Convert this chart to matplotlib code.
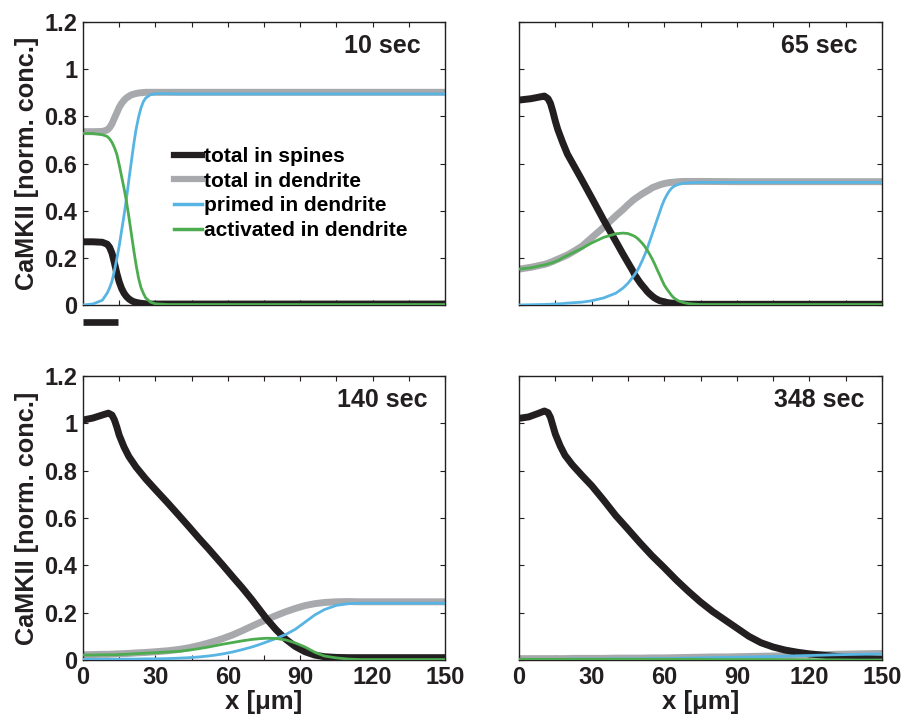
import matplotlib
matplotlib.use("Agg")
import matplotlib.pyplot as plt
from matplotlib.ticker import MultipleLocator, FixedLocator

plt.rcParams['font.family'] = ['Liberation Sans', 'DejaVu Sans']
plt.rcParams['font.weight'] = 'bold'

# --- data (x in um, y in normalized conc.) ---
x10 = [0, 4, 8, 10, 11, 12, 13, 14, 15, 16, 17, 18, 19, 20, 21, 22, 23, 24, 25, 26, 28, 30, 35, 40, 60, 90, 120, 150]
spines10 = [0.268, 0.268, 0.266, 0.258, 0.245, 0.22, 0.18, 0.135, 0.098, 0.07, 0.05, 0.036, 0.026, 0.019, 0.014,
            0.011, 0.009, 0.007, 0.006, 0.005, 0.004, 0.004, 0.004, 0.004, 0.004, 0.004, 0.004, 0.004]
dend10 = [0.735, 0.735, 0.736, 0.742, 0.752, 0.768, 0.792, 0.815, 0.838, 0.855, 0.868, 0.878, 0.885, 0.891, 0.894,
          0.897, 0.899, 0.9, 0.901, 0.902, 0.902, 0.902, 0.902, 0.902, 0.902, 0.902, 0.902, 0.902]
primed10 = [0.0, 0.004, 0.02, 0.05, 0.072, 0.1, 0.145, 0.195, 0.25, 0.315, 0.38, 0.45, 0.53, 0.605, 0.68,
            0.745, 0.795, 0.835, 0.862, 0.878, 0.892, 0.896, 0.896, 0.895, 0.895, 0.895, 0.895, 0.895]
act10 = [0.728, 0.727, 0.722, 0.715, 0.705, 0.69, 0.668, 0.64, 0.595, 0.545, 0.495, 0.44, 0.375, 0.305, 0.235,
         0.17, 0.115, 0.075, 0.05, 0.03, 0.012, 0.005, 0.002, 0.002, 0.002, 0.002, 0.002, 0.002]

x65 = [0, 5, 9, 10.5, 12, 13, 14, 15, 16, 18, 20, 23, 26, 30, 35, 40, 43, 45, 47, 48, 49, 50, 51, 52, 53, 54, 55,
       56, 57, 58, 59, 60, 61, 62, 63, 64, 65, 66, 68, 70, 72, 75, 90, 120, 150]
spines65 = [0.869, 0.875, 0.883, 0.886, 0.875, 0.855, 0.82, 0.78, 0.745, 0.69, 0.64, 0.585, 0.53, 0.455, 0.36,
            0.27, 0.215, 0.18, 0.145, 0.125, 0.11, 0.095, 0.082, 0.07, 0.057, 0.047, 0.038, 0.03, 0.024, 0.019,
            0.016, 0.014, 0.011, 0.009, 0.008, 0.007, 0.006, 0.005, 0.004, 0.003, 0.003, 0.003, 0.003, 0.003, 0.003]
dend65 = [0.152, 0.16, 0.169, 0.172, 0.177, 0.181, 0.185, 0.19, 0.194, 0.203, 0.212, 0.23, 0.249, 0.285, 0.33,
          0.378, 0.405, 0.425, 0.443, 0.451, 0.458, 0.465, 0.472, 0.478, 0.484, 0.49, 0.497, 0.501, 0.505, 0.509,
          0.512, 0.515, 0.517, 0.519, 0.52, 0.521, 0.522, 0.523, 0.524, 0.524, 0.524, 0.524, 0.523, 0.523, 0.523]
primed65 = [0.0, 0.001, 0.002, 0.002, 0.003, 0.003, 0.004, 0.004, 0.005, 0.006, 0.008, 0.01, 0.012, 0.018, 0.03,
            0.05, 0.072, 0.092, 0.118, 0.132, 0.148, 0.168, 0.19, 0.214, 0.24, 0.27, 0.3, 0.33, 0.36, 0.39, 0.42,
            0.445, 0.465, 0.482, 0.495, 0.503, 0.508, 0.512, 0.516, 0.518, 0.519, 0.52, 0.52, 0.52, 0.52]
act65 = [0.152, 0.158, 0.167, 0.17, 0.174, 0.177, 0.18, 0.184, 0.188, 0.2, 0.21, 0.225, 0.24, 0.263, 0.287,
         0.302, 0.305, 0.303, 0.295, 0.29, 0.282, 0.272, 0.261, 0.248, 0.232, 0.215, 0.196, 0.175, 0.152, 0.13,
         0.107, 0.085, 0.069, 0.055, 0.041, 0.03, 0.023, 0.017, 0.01, 0.006, 0.004, 0.002, 0.002, 0.002, 0.002]

x140 = [0, 4, 8, 10.5, 12, 13, 14, 15, 17, 19, 22, 26, 30, 35, 40, 44, 48, 52, 55, 58, 62, 66, 70, 73, 76, 80, 84,
        88, 92, 96, 100, 105, 110, 115, 120, 150]
spines140 = [1.014, 1.022, 1.035, 1.043, 1.035, 1.015, 0.985, 0.95, 0.9, 0.86, 0.815, 0.765, 0.72, 0.665, 0.608,
             0.562, 0.515, 0.47, 0.435, 0.4, 0.352, 0.305, 0.255, 0.215, 0.175, 0.128, 0.088, 0.057, 0.035, 0.021,
             0.014, 0.011, 0.01, 0.01, 0.01, 0.01]
dend140 = [0.022, 0.023, 0.024, 0.024, 0.025, 0.025, 0.026, 0.026, 0.027, 0.028, 0.03, 0.032, 0.035, 0.039, 0.045,
           0.052, 0.061, 0.072, 0.081, 0.091, 0.106, 0.124, 0.143, 0.157, 0.171, 0.188, 0.204, 0.218, 0.23, 0.238,
           0.243, 0.246, 0.247, 0.246, 0.246, 0.246]
primed140 = [0.003, 0.003, 0.003, 0.003, 0.003, 0.003, 0.003, 0.003, 0.004, 0.004, 0.004, 0.005, 0.005, 0.006,
             0.008, 0.01, 0.013, 0.017, 0.021, 0.026, 0.034, 0.044, 0.055, 0.065, 0.076, 0.091, 0.108, 0.13, 0.16,
             0.19, 0.213, 0.231, 0.238, 0.24, 0.24, 0.24]
act140 = [0.021, 0.021, 0.022, 0.022, 0.022, 0.022, 0.022, 0.023, 0.024, 0.025, 0.027, 0.029, 0.031, 0.034, 0.037,
          0.042, 0.048, 0.055, 0.061, 0.067, 0.074, 0.081, 0.087, 0.09, 0.092, 0.091, 0.085, 0.072, 0.055, 0.033,
          0.017, 0.009, 0.004, 0.002, 0.002, 0.002]

x348 = [0, 4, 8, 10.5, 12, 13, 14, 15, 17, 19, 22, 26, 30, 35, 40, 45, 50, 55, 60, 65, 70, 75, 80, 85, 90, 95,
        100, 105, 110, 115, 120, 130, 140, 150]
spines348 = [1.021, 1.027, 1.042, 1.052, 1.045, 1.025, 0.99, 0.955, 0.905, 0.865, 0.825, 0.78, 0.737, 0.675,
             0.61, 0.553, 0.495, 0.44, 0.39, 0.338, 0.29, 0.245, 0.205, 0.17, 0.135, 0.1, 0.073, 0.055, 0.042,
             0.033, 0.026, 0.016, 0.008, 0.003]
dend348 = [0.006, 0.006, 0.006, 0.006, 0.006, 0.006, 0.006, 0.006, 0.006, 0.006, 0.007, 0.007, 0.007, 0.007,
           0.008, 0.008, 0.008, 0.009, 0.009, 0.01, 0.011, 0.012, 0.013, 0.013, 0.014, 0.015, 0.016, 0.017,
           0.018, 0.02, 0.021, 0.024, 0.026, 0.028]
primed348 = [0.003, 0.003, 0.003, 0.003, 0.003, 0.003, 0.003, 0.003, 0.003, 0.003, 0.004, 0.004, 0.004, 0.004,
             0.005, 0.005, 0.005, 0.006, 0.006, 0.007, 0.008, 0.009, 0.01, 0.011, 0.012, 0.013, 0.014, 0.015,
             0.016, 0.018, 0.019, 0.022, 0.024, 0.026]
act348 = [0.003, 0.003, 0.003, 0.003, 0.003, 0.003, 0.003, 0.003, 0.003, 0.003, 0.003, 0.003, 0.003, 0.003,
          0.003, 0.003, 0.003, 0.003, 0.003, 0.003, 0.003, 0.003, 0.002, 0.002, 0.002, 0.002, 0.002, 0.002,
          0.001, 0.001, 0.001, 0.001, 0.0, 0.0]

times = ['10 sec', '65 sec', '140 sec', '348 sec']
labels = ['total in spines', 'total in dendrite', 'primed in dendrite', 'activated in dendrite']
stim_x = [0, 14.3]   # stimulated region marker under first panel

panels = [(x10, spines10, dend10, primed10, act10),
          (x65, spines65, dend65, primed65, act65),
          (x140, spines140, dend140, primed140, act140),
          (x348, spines348, dend348, primed348, act348)]

c_black = '#231f20'
c_gray = '#a7a9ac'
c_blue = '#58b4e3'
c_green = '#4dac4f'

fig = plt.figure(figsize=(9.16, 7.2), dpi=100, facecolor='white')
boxes = [[0.0906, 0.5764, 0.3952, 0.393],
         [0.5666, 0.5764, 0.3963, 0.393],
         [0.0906, 0.0833, 0.3952, 0.3945],
         [0.5666, 0.0833, 0.3963, 0.3945]]

for i, (xs, sp, de, pr, ac) in enumerate(panels):
    ax = fig.add_axes(boxes[i])
    ax.plot(xs, de, color=c_gray, lw=5.0, solid_capstyle='butt', zorder=2)
    ax.plot(xs, sp, color=c_black, lw=5.0, solid_capstyle='butt', zorder=3)
    ax.plot(xs, pr, color=c_blue, lw=2.0, zorder=4)
    ax.plot(xs, ac, color=c_green, lw=2.0, zorder=5)

    ax.set_xlim(0, 150)
    ax.set_ylim(0, 1.2)
    ax.xaxis.set_major_locator(MultipleLocator(30))
    ax.xaxis.set_minor_locator(FixedLocator([15, 45, 75, 105, 135]))
    ax.yaxis.set_major_locator(MultipleLocator(0.2))
    ax.tick_params(which='both', direction='in', top=True, right=True, length=3.5, width=0.8,
                   labelsize=17, pad=4, colors='#231f20')
    for s in ax.spines.values():
        s.set_linewidth(1.0)
        s.set_color('#231f20')

    ax.text(0.827 * 150, 1.067, times[i], ha='center', va='baseline', fontsize=18, fontweight='bold',
            color='#231f20')

    if i % 2 == 0:
        ax.set_yticks([0, 0.2, 0.4, 0.6, 0.8, 1.0, 1.2])
        ax.set_yticklabels(['0', '0.2', '0.4', '0.6', '0.8', '1', '1.2'], fontweight='bold')
        ax.set_ylabel('CaMKII [norm. conc.]', fontsize=18.2, fontweight='bold', labelpad=4, color='#231f20')
    else:
        ax.set_yticklabels([])
    if i >= 2:
        ax.set_xticks([0, 30, 60, 90, 120, 150])
        ax.set_xticklabels(['0', '30', '60', '90', '120', '150'], fontweight='bold')
        ax.set_xlabel('x [\u03bcm]', fontsize=18.5, fontweight='bold', labelpad=1, color='#231f20')
    else:
        ax.set_xticklabels([])

    if i == 0:
        ax.plot(stim_x, [-0.071, -0.071], color=c_black, lw=4.8, solid_capstyle='butt', clip_on=False)
        hs = [plt.Line2D([], [], color=c, lw=w) for c, w in
              [(c_black, 4.5), (c_gray, 4.5), (c_blue, 2.5), (c_green, 2.5)]]
        ax.legend(hs, labels, loc='upper left', bbox_to_anchor=(0.251, 0.558), frameon=False,
                  handlelength=1.35, handletextpad=0.12, labelspacing=0.27,
                  borderpad=0, borderaxespad=0, prop={'weight': 'bold', 'size': 15})

fig.savefig('out.png', dpi=100, facecolor='white')
